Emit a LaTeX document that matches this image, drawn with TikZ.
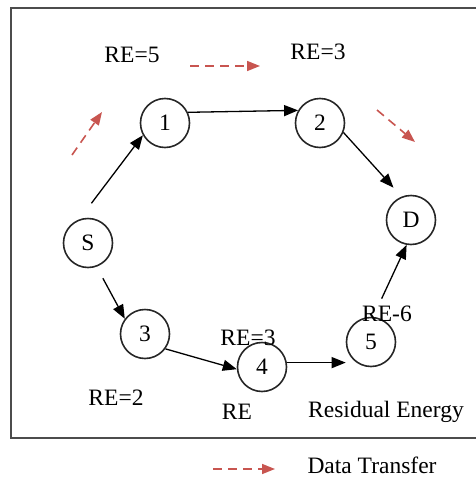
\documentclass[tikz,border=0pt]{standalone}
\usepackage{fontspec}
\setmainfont{Liberation Serif}
\usetikzlibrary{arrows.meta}
\definecolor{datared}{RGB}{200,85,80}

\begin{document}
\begin{tikzpicture}[x=1pt,y=-1pt,
  every node/.style={font=\fontsize{23.5}{28}\selectfont},
  hop/.style={draw=black!85, line width=1.6pt, circle, minimum size=49pt, inner sep=0pt},
  link/.style={line width=1.3pt, -{Triangle[length=14pt,width=11pt]}},
  transfer/.style={datared, line width=1.6pt, dash pattern=on 9pt off 6pt, -{Triangle[length=13pt,width=10pt]}}]
  \useasboundingbox (0,0) rectangle (475,477);
  \draw[black!70, line width=2pt] (477,8) -- (11,8) -- (11,438) -- (477,438);

  \node[hop] (S) at (88,243) {S};
  \node[hop] (n1) at (165,123) {1};
  \node[hop] (n2) at (320,123) {2};
  \node[hop] (D) at (411,220) {D};
  \node[hop] (n3) at (145,334) {3};
  \node[hop] (n4) at (262,367) {4};
  \node[hop] (n5) at (371,342) {5};

  \draw[link, shorten <=20pt] (S.110) -- (n1.209);
  \draw[link] (n1.25) -- (n2.150);
  \draw[link, shorten >=12pt] (n2.-22) -- (D.112);
  \draw[link, shorten <=13pt] (S.-70) -- (n3.143);
  \draw[link] (n3.-36) -- (n4.185);
  \draw[link] (n4.10) -- (n4.10 -| n5.west);
  \draw[link, shorten <=20pt] (n5.85) -- (D.-100);

  \node (re1) at (132,55) {RE=5};
  \node (re2) at (318,52) {RE=3};
  \node (re5) at (387,314) {RE-6};
  \node (re4) at (248,338) {RE=3};
  \node (re3) at (116,398) {RE=2};
  \node (key) at (237,412) {RE};
  \node (keytext) at (386,412) {Residual Energy};
  \node[inner sep=0pt] (legend) at (372,465) {Data Transfer};

  \coordinate (a1) at (72,155);  \coordinate (a2) at (102,112);
  \coordinate (b1) at (190,66);  \coordinate (b2) at (260,66);
  \coordinate (c1) at (377,110); \coordinate (c2) at (415,142);
  \coordinate (d1) at (213,469); \coordinate (d2) at (275,469);
  \draw[transfer] (a1) -- (a2);
  \draw[transfer] (b1) -- (b2);
  \draw[transfer] (c1) -- (c2);
  \draw[transfer] (d1) -- (d2);
\end{tikzpicture}
\end{document}
